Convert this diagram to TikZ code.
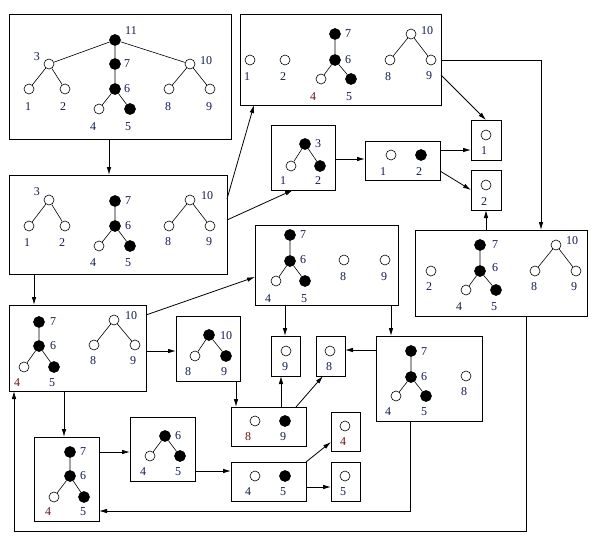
\documentclass[tikz,border=0pt]{standalone}
\usepackage{fontspec}
\setmainfont{Liberation Serif}
\usetikzlibrary{arrows.meta}
\definecolor{labblue}{RGB}{18,28,78}
\definecolor{labred}{RGB}{100,20,25}
% vertex with its number: name, shape style, x, y, text, label x, label y, label style
\newcommand\vx[8]{\node[#2] (#1) at (#3,#4) {}; \node[#8] (#1-l) at (#6,#7) {#5};}
% box given by its corners
\newcommand\bx[5]{\node[box, anchor=north west, minimum width=#4pt-#2pt, minimum height=#5pt-#3pt] (#1) at (#2,#3) {};}
\begin{document}
\begin{tikzpicture}[x=1pt, y=-1pt,
  box/.style={draw, rectangle, line width=0.9pt, inner sep=0pt, outer sep=0pt},
  wn/.style={circle, draw, fill=white, line width=0.6pt, minimum size=10pt, inner sep=0pt},
  bn/.style={circle, draw, fill=black, line width=0.6pt, minimum size=11pt, inner sep=0pt},
  lab/.style={inner sep=0pt, text=labblue, font=\fontsize{12}{14}\selectfont},
  labr/.style={lab, text=labred},
  te/.style={line width=0.6pt},
  arr/.style={line width=0.8pt, -{Latex[length=8pt,width=4.5pt]}}]
\fill[white] (0,0) rectangle (600,543);
\useasboundingbox (0,0) rectangle (600,543);

% boxes
\bx{A}{9}{14}{231}{139}
\bx{B}{240}{14}{441}{105}
\bx{C}{9}{175}{227}{274}
\bx{D}{271}{125}{335}{190}
\bx{E}{365}{141}{440}{180}
\bx{F}{471}{120}{501}{160}
\bx{G}{471}{170}{501}{210}
\bx{H}{415}{230}{587}{316}
\bx{I}{255}{225}{398}{305}
\bx{J}{9}{305}{146}{391}
\bx{K}{176}{316}{240}{381}
\bx{L}{271}{336}{300}{376}
\bx{M}{316}{336}{345}{376}
\bx{N}{376}{336}{482}{421}
\bx{O}{231}{407}{306}{446}
\bx{P}{231}{462}{306}{501}
\bx{Q}{331}{412}{360}{451}
\bx{R}{331}{462}{360}{501}
\bx{S}{34}{437}{99}{521}
\bx{T}{130}{417}{195}{481}

% box A: the whole tree
\vx{a11}{bn}{115}{40}{11}{131}{31}{lab}
\vx{a3}{wn}{49}{64}{3}{37}{57}{lab}
\vx{a1}{wn}{29}{89}{1}{28}{107}{lab}
\vx{a2}{wn}{65}{89}{2}{63}{107}{lab}
\vx{a7}{bn}{115}{64}{7}{127}{64}{lab}
\vx{a6}{bn}{115}{89}{6}{127}{89}{lab}
\vx{a4}{wn}{99}{109}{4}{93}{127}{lab}
\vx{a5}{bn}{130}{109}{5}{128}{127}{lab}
\vx{a10}{wn}{190}{64}{10}{206}{61}{lab}
\vx{a8}{wn}{169}{89}{8}{168}{107}{lab}
\vx{a9}{wn}{210}{89}{9}{209}{107}{lab}
\draw[te] (a11)--(a3) (a11)--(a7) (a11)--(a10) (a3)--(a1) (a3)--(a2)
  (a7)--(a6) (a6)--(a4) (a6)--(a5) (a10)--(a8) (a10)--(a9);

% box B
\vx{b1}{wn}{250}{60}{1}{247}{77}{lab}
\vx{b2}{wn}{285}{60}{2}{283}{77}{lab}
\vx{b7}{bn}{335}{34}{7}{348}{34}{lab}
\vx{b6}{bn}{335}{60}{6}{348}{60}{lab}
\vx{b4}{wn}{321}{79}{4}{313}{97}{labr}
\vx{b5}{bn}{351}{79}{5}{349}{97}{lab}
\vx{b10}{wn}{411}{34}{10}{427}{31}{lab}
\vx{b8}{wn}{390}{60}{8}{388}{77}{lab}
\vx{b9}{wn}{431}{60}{9}{429}{76}{lab}
\draw[te] (b7)--(b6) (b6)--(b4) (b6)--(b5) (b10)--(b8) (b10)--(b9);

% box C
\vx{c3}{wn}{49}{200}{3}{37}{192}{lab}
\vx{c1}{wn}{29}{226}{1}{27}{243}{lab}
\vx{c2}{wn}{65}{226}{2}{62}{243}{lab}
\vx{c7}{bn}{115}{201}{7}{128}{201}{lab}
\vx{c6}{bn}{115}{226}{6}{128}{226}{lab}
\vx{c4}{wn}{99}{246}{4}{93}{263}{lab}
\vx{c5}{bn}{130}{246}{5}{128}{263}{lab}
\vx{c10}{wn}{190}{200}{10}{207}{196}{lab}
\vx{c8}{wn}{169}{226}{8}{168}{242}{lab}
\vx{c9}{wn}{210}{226}{9}{209}{242}{lab}
\draw[te] (c3)--(c1) (c3)--(c2) (c7)--(c6) (c6)--(c4) (c6)--(c5)
  (c10)--(c8) (c10)--(c9);

% box D
\vx{d3}{bn}{305}{144}{3}{318}{144}{lab}
\vx{d1}{wn}{291}{166}{1}{283}{181}{lab}
\vx{d2}{bn}{320}{166}{2}{318}{181}{lab}
\draw[te] (d3)--(d1) (d3)--(d2);

% boxes E, F, G
\vx{e1}{wn}{391}{155}{1}{383}{172}{lab}
\vx{e2}{bn}{421}{155}{2}{419}{172}{lab}
\vx{f1}{wn}{486}{135}{1}{484}{151}{lab}
\vx{g2}{wn}{486}{185}{2}{484}{202}{lab}

% box H
\vx{h2}{wn}{431}{271}{2}{429}{287}{lab}
\vx{h7}{bn}{480}{245}{7}{495}{245}{lab}
\vx{h6}{bn}{480}{271}{6}{495}{268}{lab}
\vx{h4}{wn}{466}{290}{4}{459}{307}{lab}
\vx{h5}{bn}{496}{290}{5}{494}{307}{lab}
\vx{h10}{wn}{556}{245}{10}{572}{241}{lab}
\vx{h8}{wn}{535}{271}{8}{534}{287}{lab}
\vx{h9}{wn}{576}{271}{9}{574}{287}{lab}
\draw[te] (h7)--(h6) (h6)--(h4) (h6)--(h5) (h10)--(h8) (h10)--(h9);

% box I
\vx{i7}{bn}{290}{235}{7}{303}{235}{lab}
\vx{i6}{bn}{290}{261}{6}{303}{260}{lab}
\vx{i4}{wn}{276}{281}{4}{268}{299}{lab}
\vx{i5}{bn}{305}{281}{5}{304}{299}{lab}
\vx{i8}{wn}{344}{260}{8}{343}{277}{lab}
\vx{i9}{wn}{385}{260}{9}{384}{277}{lab}
\draw[te] (i7)--(i6) (i6)--(i4) (i6)--(i5);

% box J
\vx{j7}{bn}{39}{322}{7}{53}{322}{lab}
\vx{j6}{bn}{39}{346}{6}{53}{346}{lab}
\vx{j4}{wn}{24}{367}{4}{17}{383}{labr}
\vx{j5}{bn}{54}{367}{5}{52}{383}{lab}
\vx{j10}{wn}{114}{320}{10}{131}{316}{lab}
\vx{j8}{wn}{94}{345}{8}{93}{361}{lab}
\vx{j9}{wn}{135}{345}{9}{133}{361}{lab}
\draw[te] (j7)--(j6) (j6)--(j4) (j6)--(j5) (j10)--(j8) (j10)--(j9);

% box K
\vx{k10}{bn}{209}{335}{10}{226}{336}{lab}
\vx{k8}{wn}{195}{356}{8}{188}{372}{lab}
\vx{k9}{bn}{226}{356}{9}{224}{372}{lab}
\draw[te] (k10)--(k8) (k10)--(k9);

% boxes L, M
\vx{l9}{wn}{286}{351}{9}{285}{367}{lab}
\vx{m8}{wn}{330}{351}{8}{329}{367}{lab}

% box N
\vx{n7}{bn}{411}{351}{7}{424}{352}{lab}
\vx{n6}{bn}{411}{377}{6}{424}{377}{lab}
\vx{n4}{wn}{396}{396}{4}{388}{412}{lab}
\vx{n5}{bn}{426}{396}{5}{424}{412}{lab}
\vx{n8}{wn}{466}{376}{8}{464}{392}{lab}
\draw[te] (n7)--(n6) (n6)--(n4) (n6)--(n5);

% boxes O, P, Q, R
\vx{o8}{wn}{255}{421}{8}{248}{437}{labr}
\vx{o9}{bn}{285}{421}{9}{283}{437}{lab}
\vx{p4}{wn}{255}{476}{4}{248}{492}{lab}
\vx{p5}{bn}{285}{476}{5}{283}{492}{lab}
\vx{q4}{wn}{345}{426}{4}{343}{442}{labr}
\vx{r5}{wn}{345}{476}{5}{343}{492}{lab}

% box S
\vx{s7}{bn}{70}{452}{7}{83}{452}{lab}
\vx{s6}{bn}{70}{476}{6}{83}{476}{lab}
\vx{s4}{wn}{54}{497}{4}{48}{512}{labr}
\vx{s5}{bn}{84}{497}{5}{83}{512}{lab}
\draw[te] (s7)--(s6) (s6)--(s4) (s6)--(s5);

% box T
\vx{t6}{bn}{165}{436}{6}{178}{436}{lab}
\vx{t4}{wn}{150}{456}{4}{143}{472}{lab}
\vx{t5}{bn}{180}{456}{5}{178}{472}{lab}
\draw[te] (t6)--(t4) (t6)--(t5);

% connectors
\draw[arr] (A.south -| 109,0) -- (C.north -| 109,0);
\draw[arr] (C.east |- 0,199) -- (B.south -| 254,0);
\draw[arr] (C.east |- 0,220) -- (D.south -| 293,0);
\draw[arr] (D.east |- 0,159) -- (E.west |- 0,159);
\draw[arr] (E.east |- 0,150) -- (F.west |- 0,150);
\draw[arr] (E.east |- 0,171) -- (G.west |- 0,190);
\draw[arr] (B.east |- 0,75) -- (F.north);
\draw[arr] (B.east |- 0,60) -| (H.north -| 541,0);
\draw[arr] (H.north -| 486,0) -- (G.south);
\draw[arr] (C.south -| 34,0) -- (J.north -| 34,0);
\draw[arr] (J.east |- 0,315) -- (I.west |- 0,277);
\draw[arr] (J.east |- 0,351) -- (K.west |- 0,351);
\draw[arr] (K.south -| 236,0) -- (O.north -| 236,0);
\draw[arr] (I.south -| 285,0) -- (L.north -| 285,0);
\draw[arr] (I.south -| 391,0) -- (N.north -| 391,0);
\draw[arr] (N.west |- 0,350) -- (M.east |- 0,350);
\draw[arr] (O.north -| 281,0) -- (L.south -| 281,0);
\draw[arr] (O.north -| 296,0) -- (M.south -| 323,0);
\draw[arr] (J.south -| 64,0) -- (S.north -| 64,0);
\draw[arr] (S.east |- 0,452) -- (T.west |- 0,452);
\draw[arr] (T.east |- 0,471) -- (P.west |- 0,471);
\draw[arr] (P.north east) -- (Q.west |- 0,442);
\draw[arr] (P.east |- 0,487) -- (R.west |- 0,487);
\draw[arr] (N.south -| 410,0) |- (S.east |- 0,511);
\draw[arr] (H.south -| 526,0) |- (14,531) -- (J.south -| 14,0);
\end{tikzpicture}
\end{document}
